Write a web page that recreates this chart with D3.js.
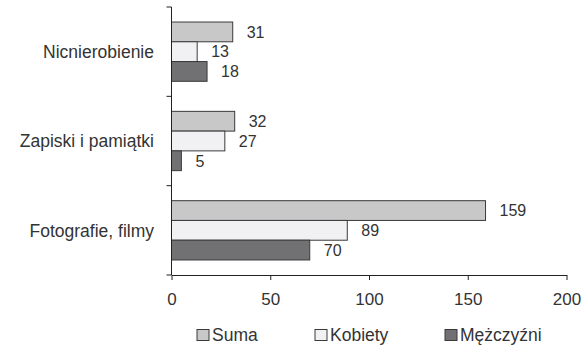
<!DOCTYPE html>
<html>
<head>
<meta charset="utf-8">
<script src="https://cdn.jsdelivr.net/npm/d3@7"></script>
<style>
  html, body { margin: 0; padding: 0; background: #fff; }
  svg { display: block; font-family: "Liberation Sans", Arial, sans-serif; }
</style>
</head>
<body>
<svg id="chart" width="584" height="347"></svg>
<script>
// Categories (top to bottom) and values per series
const categories = ["Nicnierobienie", "Zapiski i pamiątki", "Fotografie, filmy"];
const seriesNames = ["Suma", "Kobiety", "Mężczyźni"];
const suma = [31, 32, 159];
const kobiety = [13, 27, 89];
const mezczyzni = [18, 5, 70];
const xTicks = [0, 50, 100, 150, 200];

const seriesValues = [suma, kobiety, mezczyzni];
const colors = ["#c8c8c9", "#f1f1f3", "#717173"];
const stroke = "#3a3a3a";
const textColor = "#333";

const svg = d3.select("#chart");
const plotLeft = 171.5, plotRight = 566.5, plotTop = 7, plotBottom = 275;

const x = d3.scaleLinear().domain([0, 200]).range([plotLeft, plotRight]);
const y = d3.scaleBand().domain(categories).range([plotTop, plotBottom]).paddingInner(0).paddingOuter(0);
const inner = d3.scaleBand().domain(seriesNames).range([0, y.bandwidth()]).paddingInner(0).paddingOuter(0.76);

// Bars with value labels
categories.forEach((cat, ci) => {
  seriesNames.forEach((s, si) => {
    const v = seriesValues[si][ci];
    const by = y(cat) + inner(s);
    svg.append("rect")
      .attr("x", x(0))
      .attr("y", by)
      .attr("width", x(v) - x(0))
      .attr("height", inner.bandwidth())
      .attr("fill", colors[si])
      .attr("stroke", stroke)
      .attr("stroke-width", 1);
    svg.append("text")
      .attr("x", x(v) + 14)
      .attr("y", by + inner.bandwidth() / 2)
      .attr("dy", "0.36em")
      .attr("fill", textColor)
      .attr("font-size", 16)
      .text(v);
  });
});

// Category axis with ticks at band boundaries
const yAxisG = svg.append("g");
yAxisG.append("line")
  .attr("x1", plotLeft).attr("x2", plotLeft)
  .attr("y1", plotTop).attr("y2", plotBottom)
  .attr("stroke", "#222").attr("stroke-width", 1);
const boundaries = categories.map(c => y(c)).concat([plotBottom]);
boundaries.forEach(b => {
  yAxisG.append("line")
    .attr("x1", plotLeft - 5).attr("x2", plotLeft)
    .attr("y1", b).attr("y2", b)
    .attr("stroke", "#222").attr("stroke-width", 1);
});
categories.forEach(c => {
  yAxisG.append("text")
    .attr("x", 154)
    .attr("y", y(c) + y.bandwidth() / 2)
    .attr("dy", "0.36em")
    .attr("text-anchor", "end")
    .attr("fill", textColor)
    .attr("font-size", 17.5)
    .text(c);
});

// Value axis
const xAxis = d3.axisBottom(x).tickValues(xTicks).tickSize(5).tickSizeOuter(0).tickPadding(13);
const xg = svg.append("g").attr("transform", `translate(0,${plotBottom})`).call(xAxis);
xg.select(".domain").attr("stroke", "#222");
xg.selectAll(".tick line").attr("stroke", "#222");
xg.selectAll(".tick text")
  .attr("fill", textColor)
  .attr("font-size", 17)
  .attr("font-family", "Liberation Sans, Arial, sans-serif");

// Legend
const legendX = [197, 315, 445];
seriesNames.forEach((s, i) => {
  const g = svg.append("g").attr("transform", `translate(${legendX[i]},329.5)`);
  g.append("rect")
    .attr("width", 12).attr("height", 11)
    .attr("fill", colors[i]).attr("stroke", stroke).attr("stroke-width", 1);
  g.append("text")
    .attr("x", 15).attr("y", 11)
    .attr("fill", textColor)
    .attr("font-size", 17.5)
    .text(s);
});
</script>
</body>
</html>
